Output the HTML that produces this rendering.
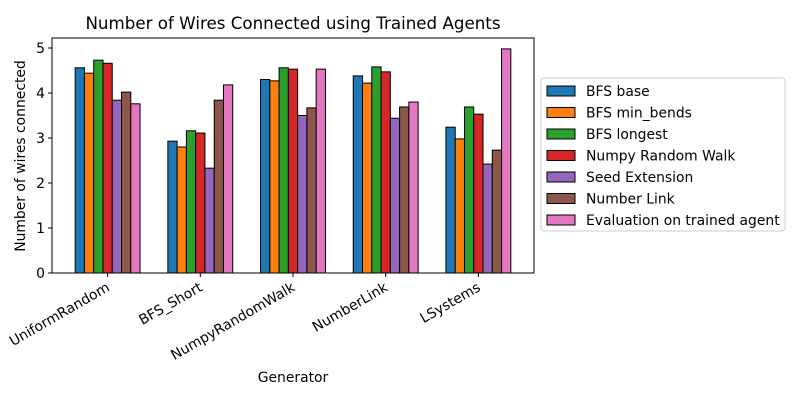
<!DOCTYPE html>
<html><head><meta charset="utf-8"><style>body{margin:0;background:#fff}svg{font-family:"DejaVu Sans","Liberation Sans",sans-serif}</style></head>
<body>
<svg id="chart" width="800" height="400"></svg>
<script>
const categories=["UniformRandom","BFS_Short","NumpyRandomWalk","NumberLink","LSystems"];
const seriesNames=["BFS base","BFS min_bends","BFS longest","Numpy Random Walk","Seed Extension","Number Link","Evaluation on trained agent"];
const colors=["#1f77b4","#ff7f0e","#2ca02c","#d62728","#9467bd","#8c564b","#e377c2"];
const s0=[4.56,2.93,4.30,4.38,3.24];
const s1=[4.44,2.80,4.27,4.22,2.98];
const s2=[4.73,3.16,4.56,4.58,3.69];
const s3=[4.66,3.11,4.53,4.47,3.53];
const s4=[3.84,2.33,3.50,3.44,2.42];
const s5=[4.02,3.84,3.67,3.69,2.73];
const s6=[3.76,4.18,4.53,3.80,4.98];
const series=[s0,s1,s2,s3,s4,s5,s6];
const yTicks=[0,1,2,3,4,5];
const NS="http://www.w3.org/2000/svg";
const svg=document.getElementById('chart');
function mk(t,a,p){const e=document.createElementNS(NS,t);for(const k in a)e.setAttribute(k,a[k]);(p||svg).appendChild(e);return e;}
const L=52,R=534,T=38,B=273;
const FS=13.9;
const x=v=>L+(v+0.6)/5.2*(R-L);
const y=v=>B-v*45;
const bw=0.1;
series.forEach((s,si)=>{s.forEach((v,ci)=>{
 const xl=x(ci-0.35+si*bw);
 const r=mk('rect',{x:xl,y:y(v),width:x(bw)-x(0),height:B-y(v),fill:colors[si],stroke:'#000','stroke-width':1});
 
 
});});
const ax=mk('rect',{x:L,y:T,width:R-L,height:B-T,fill:'none',stroke:'#000','stroke-width':1});

yTicks.forEach(t=>{
 mk('line',{x1:L-4,x2:L,y1:y(t),y2:y(t),stroke:'#000'});
 const tx=mk('text',{x:L-7,y:y(t)+5,'text-anchor':'end','font-size':FS});tx.textContent=t;
 
});
categories.forEach((c,i)=>{
 const cx=x(i);
 mk('line',{x1:cx,x2:cx,y1:B,y2:B+4,stroke:'#000'});
 const ax0=cx+3, ay0=B+17;
 const tx=mk('text',{x:ax0,y:ay0,'text-anchor':'end','font-size':FS,transform:`rotate(-30 ${ax0} ${ay0})`});tx.textContent=c;
 
});
let t=mk('text',{x:293,y:29,'text-anchor':'middle','font-size':16.7});t.textContent="Number of Wires Connected using Trained Agents";

t=mk('text',{x:293,y:382,'text-anchor':'middle','font-size':FS});t.textContent="Generator";

t=mk('text',{x:25,y:156,'text-anchor':'middle','font-size':FS,transform:'rotate(-90 25 156)'});t.textContent="Number of wires connected";

const lg=mk('rect',{x:541,y:78,width:244,height:153,rx:3,fill:'#fff',stroke:'#ccc'});

seriesNames.forEach((n,i)=>{
 const yy=86+i*21.5;
 const r=mk('rect',{x:547,y:yy,width:28,height:10,fill:colors[i],stroke:'#000'});
 
 const tx=mk('text',{x:586,y:yy+10,'font-size':FS});tx.textContent=n;
 
});
</script>
</body></html>
